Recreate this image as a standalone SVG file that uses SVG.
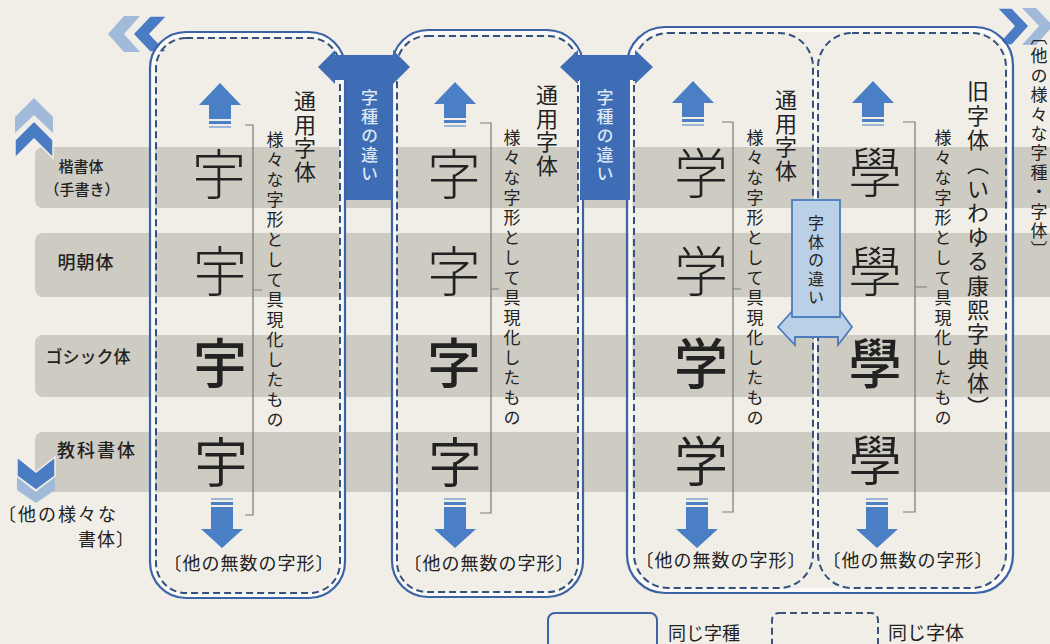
<svg xmlns="http://www.w3.org/2000/svg" width="1050" height="644" viewBox="0 0 1050 644">
<style>
.t{font-family:"Noto Sans CJK JP","Noto Sans CJK SC",sans-serif;fill:#222}
.v{writing-mode:vertical-rl}
.band{fill:#cecbc3}
.solid{fill:none;stroke:#3a63a8;stroke-width:2.2}
.dash{fill:none;stroke:#34507e;stroke-width:2;stroke-dasharray:7 4}
.gap{fill:none;stroke:#fbfaf6;stroke-width:4}
.arr{fill:#4b7fc5}
.lt{fill:#a2bad9}
.dk{fill:#4a7cc4;stroke:#f0eee7;stroke-width:1.5}
.bar{fill:#3e6db5}
.brk{fill:none;stroke:#7a7a7a;stroke-width:1.2}
.g{font-size:54px}
.lb{font-weight:500}
</style>
<defs>
<g id="up"><polygon points="0,0 21,22 11,22 11,36 -11,36 -11,22 -21,22"/><rect x="-11" y="38" width="22" height="3"/><rect x="-11" y="43" width="22" height="2" fill="#9db6d8"/></g>
<g id="down"><rect x="-11" y="0" width="22" height="2" fill="#9db6d8"/><rect x="-11" y="4" width="22" height="3"/><polygon points="-11,9 11,9 11,31 21,31 0,50 -21,31 -11,31"/></g>
</defs>
<rect width="1050" height="644" fill="#f0eee7"/>
<g id="bands">
<rect class="band" x="35" y="147" width="1030" height="61" rx="8"/>
<rect class="band" x="35" y="233" width="1030" height="64" rx="8"/>
<rect class="band" x="35" y="335" width="1030" height="62" rx="8"/>
<rect class="band" x="35" y="432" width="1030" height="60" rx="8"/>
</g>
<g id="chevrons">
<polygon class="lt" points="108,34 124,16 140,16 124,34 140,52 124,52"/>
<polygon class="dk" points="133,34 150,16 167,16 150,34 167,52 150,52"/>
<polygon class="lt" points="1022,8 1036,8 1053,26 1036,45 1022,45 1039,26"/>
<polygon class="dk" points="997,8 1012,8 1029,26 1012,45 997,45 1014,26"/>
<polygon class="lt" points="15,117 34,98 53,117 53,133 34,115 15,133"/>
<polygon class="dk" points="15,140 34,121 53,140 53,158 34,139 15,158"/>
<polygon class="lt" points="17,477 36,492 55,477 55,490 36,503 17,490"/>
<polygon class="dk" points="17,457 36,472 55,457 55,476 36,490 17,476"/>
</g>
<g id="labels" class="t">
<text class="lb" x="81" y="172" font-size="15" text-anchor="middle">楷書体</text>
<text class="lb" x="82" y="195" font-size="15" text-anchor="middle">（手書き）</text>
<text class="lb" x="86" y="269" font-size="18" letter-spacing="1" text-anchor="middle">明朝体</text>
<text class="lb" x="88" y="363" font-size="17" text-anchor="middle">ゴシック体</text>
<text class="lb" x="97" y="457" font-size="18" letter-spacing="2" text-anchor="middle">教科書体</text>
<text x="-2" y="521" font-size="18" letter-spacing="2">〔他の様々な</text>
<text x="78" y="546" font-size="18" letter-spacing="1">書体〕</text>
<text class="v" x="1039" y="28" font-size="17" letter-spacing="2.4">〔他の様々な字種・字体〕</text>
</g>
<g id="connectors">
<rect class="gap" x="153" y="35" width="189" height="560" rx="33"/>
<rect class="solid" x="150" y="32" width="195" height="566" rx="36"/>
<rect class="dash" x="156" y="38" width="184" height="555" rx="30"/>
<rect class="gap" x="394.5" y="33" width="186" height="561.5" rx="33"/>
<rect class="solid" x="392" y="30" width="191" height="567" rx="36"/>
<rect class="dash" x="397" y="36" width="181" height="556" rx="30"/>
<rect class="gap" x="630.5" y="30" width="379" height="560" rx="35"/>
<line x1="815.5" y1="70" x2="815.5" y2="550" stroke="#fbfaf6" stroke-width="3"/>
<rect class="solid" x="627" y="27" width="386" height="566" rx="38"/>
<rect class="dash" x="634" y="33" width="179" height="555" rx="34"/>
<rect class="dash" x="818" y="33" width="188" height="555" rx="34"/>
</g>
<g id="box1">
<use href="#up" x="220" y="83" class="arr"/>
<use href="#down" x="222" y="498" class="arr"/>
<path class="brk" d="M245,125 H253 V515 H245 M253,290 H262"/>
<text class="t g" x="219" y="195" text-anchor="middle" font-weight="300">宇</text>
<text class="t g" x="220" y="292" text-anchor="middle" font-weight="300">宇</text>
<text class="t g" x="220" y="384" text-anchor="middle" font-weight="500">宇</text>
<text class="t g" x="221" y="483" text-anchor="middle" font-weight="350">宇</text>
<text class="t v" x="305" y="90" font-size="22" letter-spacing="1.5">通用字体</text>
<text class="t v" x="275" y="131" font-size="17" letter-spacing="3">様々な字形として具現化したもの</text>
<text class="t" x="249" y="570" font-size="18" letter-spacing="1" text-anchor="middle">〔他の無数の字形〕</text>
</g>
<g id="box2">
<use href="#up" x="455" y="82" class="arr"/>
<use href="#down" x="455" y="498" class="arr"/>
<path class="brk" d="M480,123 H491 V513 H480 M491,289 H499"/>
<text class="t g" x="454" y="195" text-anchor="middle" font-weight="300">字</text>
<text class="t g" x="454" y="292" text-anchor="middle" font-weight="300">字</text>
<text class="t g" x="454" y="384" text-anchor="middle" font-weight="500">字</text>
<text class="t g" x="455" y="483" text-anchor="middle" font-weight="350">字</text>
<text class="t v" x="547" y="84" font-size="22" letter-spacing="1.5">通用字体</text>
<text class="t v" x="512" y="129" font-size="17" letter-spacing="3">様々な字形として具現化したもの</text>
<text class="t" x="489" y="570" font-size="18" letter-spacing="1" text-anchor="middle">〔他の無数の字形〕</text>
</g>
<g id="box3a">
<use href="#up" x="693" y="81" class="arr"/>
<use href="#down" x="697" y="498" class="arr"/>
<path class="brk" d="M722,122 H733 V512 H722 M733,289 H741"/>
<text class="t g" x="701" y="194" text-anchor="middle" font-weight="300">学</text>
<text class="t g" x="701" y="292" text-anchor="middle" font-weight="300">学</text>
<text class="t g" x="701" y="384" text-anchor="middle" font-weight="500">学</text>
<text class="t g" x="701" y="482" text-anchor="middle" font-weight="350">学</text>
<text class="t v" x="786" y="89" font-size="22" letter-spacing="1.5">通用字体</text>
<text class="t v" x="755" y="129" font-size="17" letter-spacing="3">様々な字形として具現化したもの</text>
<text class="t" x="721" y="567" font-size="18" letter-spacing="1" text-anchor="middle">〔他の無数の字形〕</text>
</g>
<g id="box3b">
<use href="#up" x="873" y="81" class="arr"/>
<use href="#down" x="877" y="498" class="arr"/>
<path class="brk" d="M903,122 H915 V512 H903 M915,287 H927"/>
<text class="t g" x="875" y="193" text-anchor="middle" font-weight="300">學</text>
<text class="t g" x="875" y="292" text-anchor="middle" font-weight="300">學</text>
<text class="t g" x="875" y="384" text-anchor="middle" font-weight="500">學</text>
<text class="t g" x="875" y="481" text-anchor="middle" font-weight="350">學</text>
<text class="t v" x="978" y="80" font-size="22" letter-spacing="2.3">旧字体（いわゆる康熙字典体）</text>
<text class="t v" x="943" y="129" font-size="17" letter-spacing="3">様々な字形として具現化したもの</text>
<text class="t" x="908" y="567" font-size="18" letter-spacing="1" text-anchor="middle">〔他の無数の字形〕</text>
</g>
<g id="bar1">
<path class="bar" d="M318,67 L335,50 V55 H393 V50 L410,67 L393,84 V200 H346 V80 H335 V84 Z"/>
<text class="t v" x="369.5" y="89" font-size="17" letter-spacing="2" font-weight="500" style="fill:#dce6f4">字種の違い</text>
</g>
<g id="bar2">
<path class="bar" d="M560,67 L578,50 V55 H635 V50 L653,67 L635,84 V80 H630 V200 H580 V80 H578 V84 Z"/>
<text class="t v" x="605" y="89" font-size="17" letter-spacing="2" font-weight="500" style="fill:#dce6f4">字種の違い</text>
</g>
<g id="bar3">
<path d="M778,327 L795,308 V317 H838 V308 L852,327 L838,345 V337 H795 V345 Z" fill="#b9d0e6" stroke="#4a7bbd" stroke-width="1.8"/>
<rect x="792" y="200" width="48" height="117" fill="#b9d0e6" stroke="#4a7bbd" stroke-width="1.8"/>
<text class="t v" x="816" y="215" font-size="16" letter-spacing="2.6">字体の違い</text>
</g>
<g id="legend">
<rect x="548" y="613" width="109" height="45" rx="7" fill="none" stroke="#3e62a5" stroke-width="2"/>
<text class="t" x="668" y="640" font-size="18">同じ字種</text>
<rect x="772" y="613" width="106" height="45" rx="7" fill="none" stroke="#3d5379" stroke-width="2" stroke-dasharray="7 4"/>
<text class="t" x="888" y="640" font-size="19">同じ字体</text>
</g>
</svg>
